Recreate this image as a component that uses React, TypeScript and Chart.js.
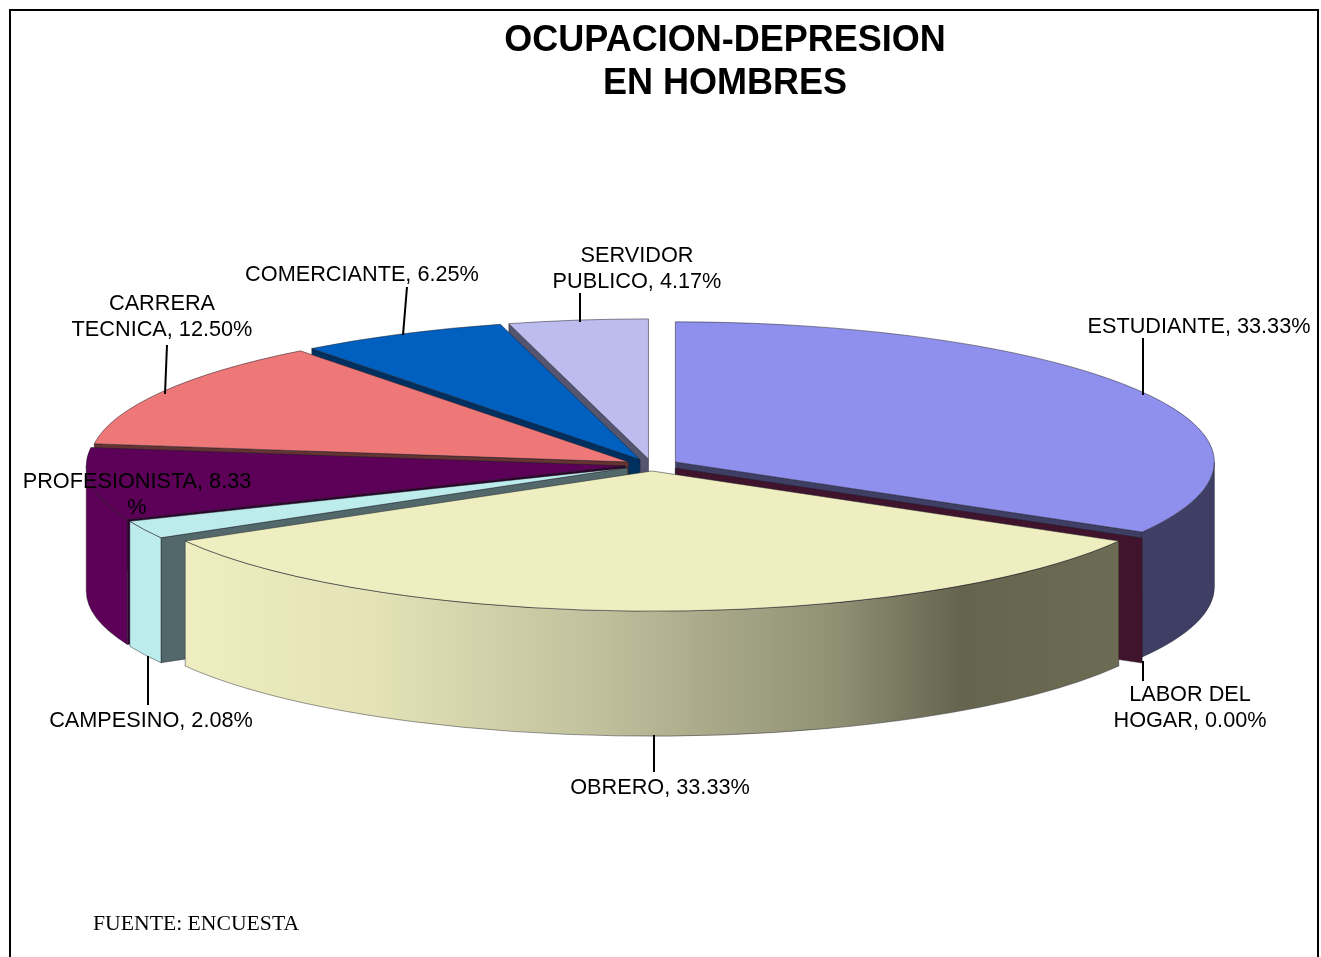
import React, { useEffect, useRef } from "react";
import { Chart, registerables } from "chart.js";

Chart.register(...registerables);

const categories = ["ESTUDIANTE", "LABOR DEL HOGAR", "OBRERO", "CAMPESINO", "PROFESIONISTA", "CARRERA TECNICA", "COMERCIANTE", "SERVIDOR PUBLICO"];
const values = [33.33, 0, 33.33, 2.08, 8.33, 12.5, 6.25, 4.17];
const topColors = ["#8F8FEE", "#801F50", "#EEEEC0", "#BCECEC", "#5C0058", "#EE7878", "#0060C0", "#BCBCEE"];
const wallColors = ["#3F3F66", "#40142C", "#6A6A52", "#BCECEC", "#5C0058", "#663333", "#003060", "#55556F"];
const faceColors = ["#3F3F66", "#40142C", "#6A6A52", "#53686A", "#2E002C", "#663333", "#003060", "#55556F"];
const titleLines = ["OCUPACION-DEPRESION", "EN HOMBRES"];
const sourceText = "FUENTE: ENCUESTA";

const CX = 652, CY = 465, R = 539, K = 0.26, DEPTH = 125, EXPLODE_X = 27, EXPLODE_Y = 6;

const labelLayout = [
  { lines: ["ESTUDIANTE, 33.33%"], x: 1199, y: 327, lead: [1143, 395, 1143, 338] },
  { lines: ["LABOR DEL", "HOGAR, 0.00%"], x: 1190, y: 695, lead: [1143, 661, 1143, 681] },
  { lines: ["OBRERO, 33.33%"], x: 660, y: 788, lead: [654, 735, 654, 772] },
  { lines: ["CAMPESINO, 2.08%"], x: 151, y: 721, lead: [148, 656, 148, 705] },
  { lines: ["PROFESIONISTA, 8.33", "%"], x: 137, y: 482, lead: null },
  { lines: ["CARRERA", "TECNICA, 12.50%"], x: 162, y: 304, lead: [165, 394, 167, 345] },
  { lines: ["COMERCIANTE, 6.25%"], x: 362, y: 275, lead: [403, 335, 407, 287] },
  { lines: ["SERVIDOR", "PUBLICO, 4.17%"], x: 637, y: 256, lead: [580, 322, 580, 293] },
];

const centerOf = (a: any) => {
  const mid = (a.startAngle + a.endAngle) / 2;
  return { x: CX + Math.cos(mid) * EXPLODE_X, y: CY + Math.sin(mid) * EXPLODE_Y, mid };
};

const pie3d = {
  id: "pie3d",
  beforeDraw(chart: any) {
    const { ctx, width, height } = chart;
    ctx.save();
    ctx.fillStyle = "#FFFFFF";
    ctx.fillRect(0, 0, width, height);
    ctx.strokeStyle = "#000000";
    ctx.lineWidth = 2;
    ctx.strokeRect(10, 10, 1308, 980);
    ctx.restore();
  },
  beforeDatasetDraw(chart: any) {
    const { ctx } = chart;
    const arcs = chart.getDatasetMeta(0).data as any[];
    const geo = arcs.map((a, i) => ({ i, start: a.startAngle, end: a.endAngle, ...centerOf(a) }));
    const order = [...geo].sort((p, q) => Math.sin(p.mid) - Math.sin(q.mid));
    ctx.save();
    ctx.lineWidth = 1;
    ctx.strokeStyle = "rgba(30,30,40,0.45)";
    const face = (g: any, ang: number) => {
      const ex = g.x + R * Math.cos(ang);
      const ey = g.y + R * K * Math.sin(ang);
      ctx.beginPath();
      ctx.moveTo(g.x, g.y);
      ctx.lineTo(ex, ey);
      ctx.lineTo(ex, ey + DEPTH);
      ctx.lineTo(g.x, g.y + DEPTH);
      ctx.closePath();
      ctx.fillStyle = faceColors[g.i];
      ctx.fill();
      ctx.stroke();
    };
    for (const g of order) {
      if (Math.sin(g.start + Math.PI / 2) < -1e-6) face(g, g.start);
      if (Math.sin(g.end + Math.PI / 2) > 1e-6) face(g, g.end);
      const a0 = Math.max(g.start, 0);
      const a1 = Math.min(g.end, Math.PI);
      if (a1 > a0) {
        ctx.beginPath();
        ctx.ellipse(g.x, g.y, R, R * K, 0, a0, a1);
        ctx.ellipse(g.x, g.y + DEPTH, R, R * K, 0, a1, a0, true);
        ctx.closePath();
        if (categories[g.i] === "OBRERO") {
          const grad = ctx.createLinearGradient(187, 0, 1118, 0);
          grad.addColorStop(0, "#EEEEC0");
          grad.addColorStop(0.2, "#E4E2B6");
          grad.addColorStop(0.45, "#BFBF9C");
          grad.addColorStop(0.7, "#8F8F74");
          grad.addColorStop(0.83, "#65654F");
          grad.addColorStop(1, "#6C6C54");
          ctx.fillStyle = grad;
        } else {
          ctx.fillStyle = wallColors[g.i];
        }
        ctx.fill();
        ctx.stroke();
      }
    }
    ctx.restore();
    // the library's own arc elements are the top faces, squashed into ellipses
    arcs.forEach((a) => {
      if (a.endAngle - a.startAngle <= 0) return;
      const c = centerOf(a);
      ctx.save();
      ctx.translate(c.x, c.y);
      ctx.scale(1, K);
      ctx.translate(-a.x, -a.y);
      a.draw(ctx);
      ctx.restore();
    });
    return false;
  },
  afterDatasetsDraw(chart: any) {
    const { ctx } = chart;
    const arcs = chart.getDatasetMeta(0).data as any[];
    ctx.save();
    ctx.lineWidth = 1;
    ctx.strokeStyle = "rgba(30,30,40,0.5)";
    arcs.forEach((a) => {
      if (a.endAngle - a.startAngle <= 0) return;
      const c = centerOf(a);
      ctx.beginPath();
      ctx.moveTo(c.x, c.y);
      ctx.ellipse(c.x, c.y, R, R * K, 0, a.startAngle, a.endAngle);
      ctx.closePath();
      ctx.stroke();
    });
    ctx.fillStyle = "#000000";
    ctx.strokeStyle = "#000000";
    ctx.lineWidth = 2;
    labelLayout.forEach((l) => {
      if (l.lead) {
        ctx.beginPath();
        ctx.moveTo(l.lead[0], l.lead[1]);
        ctx.lineTo(l.lead[2], l.lead[3]);
        ctx.stroke();
      }
    });
    ctx.font = "21.7px 'Liberation Sans'";
    ctx.textAlign = "center";
    ctx.textBaseline = "middle";
    labelLayout.forEach((l) => {
      l.lines.forEach((t, j) => ctx.fillText(t, l.x, l.y + j * 26));
    });
    ctx.font = "21.7px 'Liberation Serif'";
    ctx.textAlign = "left";
    ctx.fillText(sourceText, 93, 924);
    ctx.restore();
  },
};

export default function App() {
  const ref = useRef<HTMLCanvasElement>(null);
  useEffect(() => {
    document.body.style.margin = "0";
    document.body.style.overflow = "hidden";
    const chart = new Chart(ref.current!, {
      type: "pie",
      data: {
        labels: categories,
        datasets: [
          {
            data: values,
            backgroundColor: topColors,
            borderWidth: 0,
            clip: false,
          } as any,
        ],
      },
      options: {
        responsive: false,
        animation: false,
        radius: R,
        layout: { padding: { left: 129 } },
        plugins: {
          legend: { display: false },
          tooltip: { enabled: false },
          title: {
            display: true,
            text: titleLines,
            color: "#000000",
            font: { family: "'Liberation Sans'", size: 36, weight: "bold", lineHeight: 1.2 },
            padding: { top: 19, bottom: 10 },
          },
        },
      } as any,
      plugins: [pie3d],
    });
    return () => chart.destroy();
  }, []);
  return <canvas ref={ref} width={1321} height={957} style={{ display: "block", width: 1321, height: 957 }} />;
}
